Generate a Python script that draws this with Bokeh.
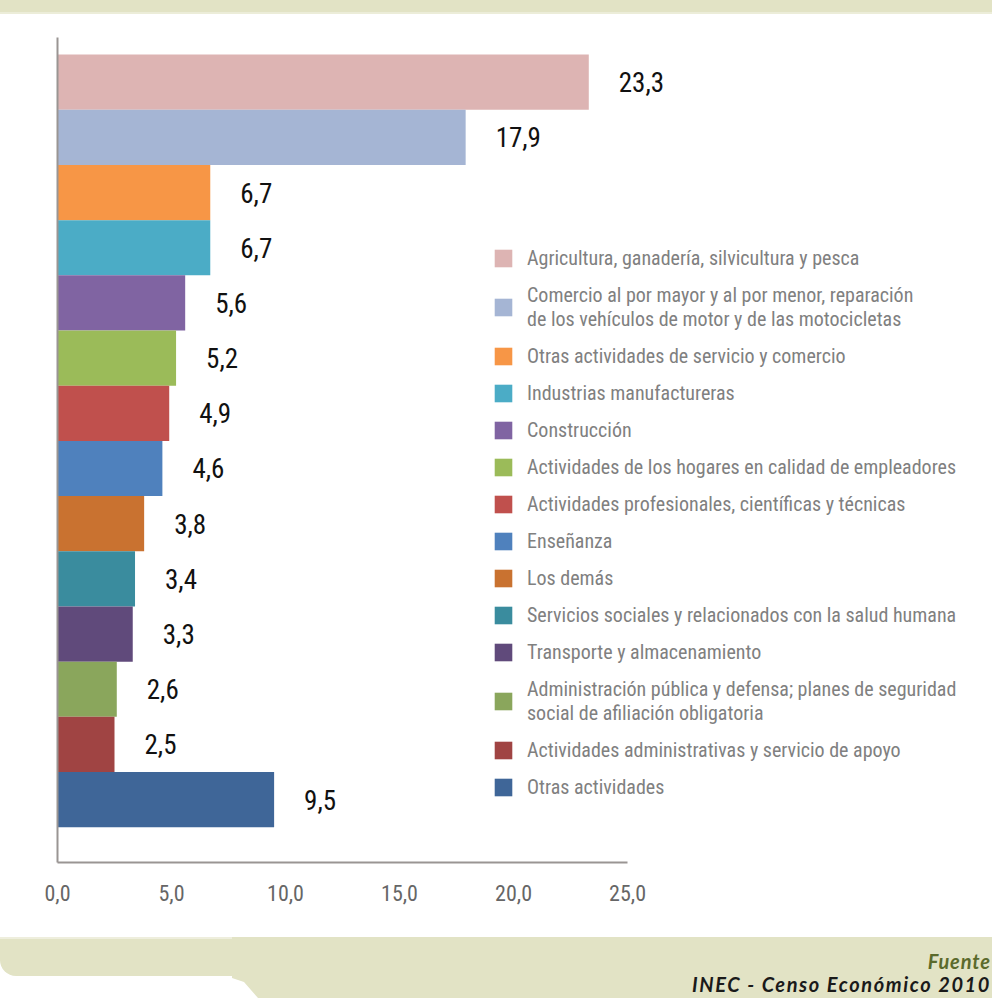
from bokeh.plotting import figure
from bokeh.models import (ColumnDataSource, Range1d, FixedTicker, Legend, LegendItem, Div)
from bokeh.layouts import column
from bokeh.core.properties import value
from bokeh.embed import file_html
from bokeh.resources import INLINE

labels = [
    "Agricultura, ganadería, silvicultura y pesca",
    "Comercio al por mayor y al por menor, reparación\nde los vehículos de motor y de las motocicletas",
    "Otras actividades de servicio y comercio",
    "Industrias manufactureras",
    "Construcción",
    "Actividades de los hogares en calidad de empleadores",
    "Actividades profesionales, científicas y técnicas",
    "Enseñanza",
    "Los demás",
    "Servicios sociales y relacionados con la salud humana",
    "Transporte y almacenamiento",
    "Administración pública y defensa; planes de seguridad\nsocial de afiliación obligatoria",
    "Actividades administrativas y servicio de apoyo",
    "Otras actividades",
]
values = [23.3, 17.9, 6.7, 6.7, 5.6, 5.2, 4.9, 4.6, 3.8, 3.4, 3.3, 2.6, 2.5, 9.5]
value_labels = ["23,3", "17,9", "6,7", "6,7", "5,6", "5,2", "4,9", "4,6", "3,8", "3,4", "3,3", "2,6", "2,5", "9,5"]
colors = ["#ddb4b3", "#a5b5d4", "#f79646", "#4bacc6", "#8064a2", "#9bbb59", "#c0504d",
          "#4f81bd", "#c97230", "#3a8c9e", "#604a7b", "#8aa65c", "#a04443", "#3f6698"]
x_ticks = [0, 5, 10, 15, 20, 25]
x_tick_labels = ["0,0", "5,0", "10,0", "15,0", "20,0", "25,0"]

FONT = "'Roboto Condensed', 'Liberation Sans Narrow', 'DejaVu Sans Condensed', sans-serif"

src = ColumnDataSource(dict(y=list(range(len(values))), v=values, lab=value_labels,
                            color=colors, name=labels))

p = figure(width=992, height=921, output_backend="svg", toolbar_location=None,
           x_range=Range1d(0, 40.26), y_range=Range1d(14.14, -0.81),
           min_border_left=57, min_border_right=17, min_border_top=21, min_border_bottom=75,
           margin=0)
p.outline_line_color = None
p.grid.grid_line_color = None
p.background_fill_color = "white"
p.border_fill_color = "white"

r = p.hbar(y="y", right="v", left=0, height=1.0, color="color", line_color=None, source=src)
p.text(x="v", y="y", text="lab", source=src, x_offset=30, text_align="left",
       text_baseline="middle", text_font=value(FONT), text_font_size="27px", text_color="#111111")

xa = p.xaxis[0]
xa.ticker = FixedTicker(ticks=x_ticks)
xa.major_label_overrides = {t: s for t, s in zip(x_ticks, x_tick_labels)}
xa.bounds = (0, 25)
xa.axis_line_color = "#9a9593"
xa.axis_line_width = 2
xa.major_tick_line_color = None
xa.minor_tick_line_color = None
xa.major_label_text_font = FONT
xa.major_label_text_font_size = "22px"
xa.major_label_text_color = "#666666"
xa.major_label_standoff = 16

ya = p.yaxis[0]
ya.ticker = FixedTicker(ticks=[])
ya.axis_line_color = "#9a9593"
ya.axis_line_width = 2
ya.major_tick_line_color = None
ya.minor_tick_line_color = None
ya.major_label_text_font_size = "0px"

items = [LegendItem(label=labels[i], renderers=[r], index=i) for i in range(len(labels))]
leg = Legend(items=items, location=(435, 63), orientation="vertical",
             label_text_font=FONT, label_text_font_size="20px", label_text_color="#808080",
             glyph_width=22, glyph_height=22, label_height=22, label_standoff=13,
             spacing=13, padding=0, margin=0, border_line_color=None,
             background_fill_alpha=0)
p.add_layout(leg, "center")

BEIGE = "#e2e3c5"
top = Div(width=992, height=16, margin=0,
          text=f'<div style="width:992px;height:14px;background:{BEIGE};border-bottom:2px solid #ecedd9;"></div>')
bottom = Div(width=992, height=61, margin=0, text=f"""
<div style="position:relative;width:992px;height:61px;overflow:hidden;">
  <div style="position:absolute;left:0;top:0;width:992px;height:39px;background:{BEIGE};border-top:2px solid #eeeedd;border-bottom-left-radius:16px;"></div>
  <div style="position:absolute;left:232px;top:0;width:760px;height:61px;background:{BEIGE};clip-path:polygon(0 0,100% 0,100% 100%,26px 100%,12px 45px,0 41px);"></div>
  <div style="position:absolute;right:1px;top:14px;font-family:Lato;font-style:italic;font-weight:bold;font-size:20px;letter-spacing:0.9px;color:#5b6a2c;line-height:20px;">Fuente</div>
  <div style="position:absolute;right:1px;top:37px;font-family:Lato;font-style:italic;font-weight:bold;font-size:20px;letter-spacing:1.6px;color:#1a1a1a;line-height:20px;white-space:nowrap;">INEC - Censo Económico 2010</div>
</div>""")

layout = column(top, p, bottom, spacing=0, margin=0,
                styles={"position": "absolute", "top": "0px", "left": "0px"})

open("out.html", "w").write(file_html(layout, INLINE))
